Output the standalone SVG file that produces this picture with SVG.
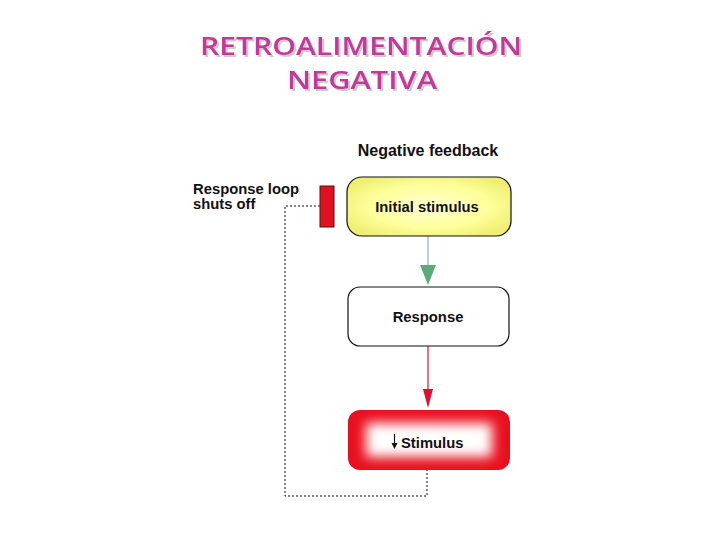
<svg xmlns="http://www.w3.org/2000/svg" width="720" height="540" viewBox="0 0 720 540">
<style>
.title{font-family:"Open Sans","Noto Sans",sans-serif;font-weight:600;font-size:26px;fill:#c4389c;text-anchor:middle}
.lbl{font-family:"Liberation Sans",Arial,sans-serif;font-weight:bold;font-size:14.8px;fill:#111}
.node{stroke:#111;stroke-width:1.2}
</style>
<defs>
<radialGradient id="yel" cx="50%" cy="50%" r="60%">
<stop offset="0" stop-color="#ffffd0"/>
<stop offset="0.6" stop-color="#ffff9c"/>
<stop offset="1" stop-color="#eeee70"/>
</radialGradient>
<filter id="blur" x="-50%" y="-50%" width="200%" height="200%">
<feGaussianBlur stdDeviation="6"/>
</filter>
<filter id="tshadow" x="-10%" y="-20%" width="120%" height="150%">
<feDropShadow dx="2" dy="2" stdDeviation="0.6" flood-color="#000" flood-opacity="0.2"/>
</filter>
<clipPath id="stimclip"><rect x="348" y="410" width="162" height="60" rx="12"/></clipPath>
</defs>
<g id="title" filter="url(#tshadow)">
<text class="title" x="361" y="55" textLength="322" lengthAdjust="spacingAndGlyphs">RETROALIMENTACIÓN</text>
<text class="title" x="362" y="89" textLength="150" lengthAdjust="spacingAndGlyphs">NEGATIVA</text>
</g>
<g id="heading"><text class="lbl" x="428" y="156" text-anchor="middle" style="font-size:16px">Negative feedback</text></g>
<g id="loop-label">
<text class="lbl" x="193" y="194">Response loop</text>
<text class="lbl" x="193" y="209">shuts off</text>
</g>
<g id="connectors">
<line x1="428" y1="236" x2="428" y2="268" stroke="#a8c4b4" stroke-width="1.5"/>
<polygon points="420,265 436,265 428,285" fill="#5caa78"/>
<line x1="428" y1="346" x2="428" y2="392" stroke="#e01030" stroke-width="1.2"/>
<polygon points="423,389 433,389 428,408" fill="#e01030"/>
<polyline points="320,206 285,206 285,496 427,496 427,470" fill="none" stroke="#111" stroke-width="1" stroke-dasharray="2,2"/>
</g>
<g id="bar"><rect x="320" y="186" width="14" height="41" fill="#e0101e" stroke="#551010" stroke-width="1"/></g>
<g id="initial">
<rect class="node" x="347" y="177" width="164" height="59" rx="15" fill="url(#yel)"/>
<text class="lbl" x="427" y="212" text-anchor="middle">Initial stimulus</text>
</g>
<g id="response">
<rect class="node" x="348" y="287" width="161" height="59" rx="12" fill="#fff"/>
<text class="lbl" x="428" y="322" text-anchor="middle">Response</text>
</g>
<g id="stimulus">
<rect x="348" y="410" width="162" height="60" rx="12" fill="#e8101e"/>
<g clip-path="url(#stimclip)" filter="url(#blur)"><rect x="366" y="423" width="126" height="34" fill="#fff"/><rect x="372" y="427" width="114" height="26" fill="#fff"/></g>
<line x1="394.5" y1="434" x2="394.5" y2="444" stroke="#111" stroke-width="1.2"/>
<polygon points="391.5,443 397.5,443 394.5,449" fill="#111"/>
<text class="lbl" x="401" y="448">Stimulus</text>
</g>
</svg>
